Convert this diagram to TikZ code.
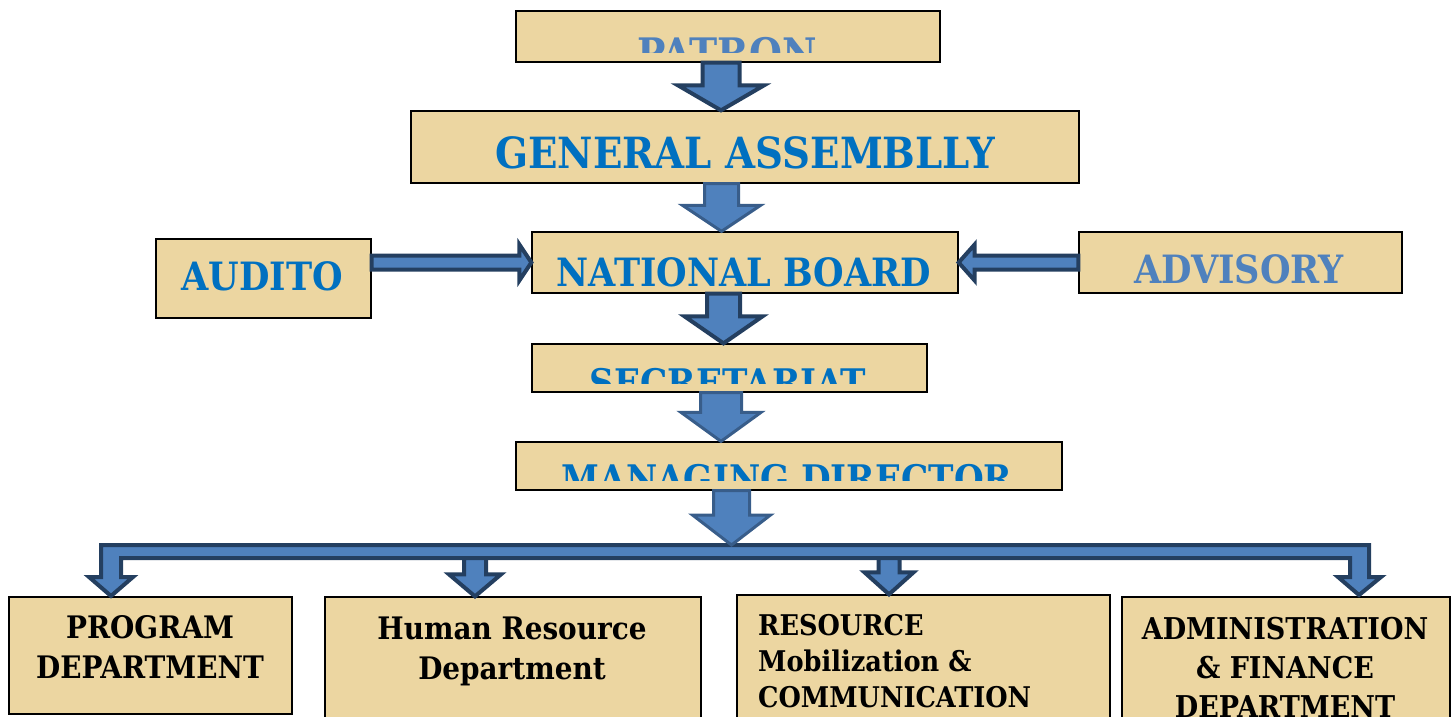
\documentclass[tikz,border=0pt]{standalone}
\usepackage{fontspec}
\newfontfamily\boxfont{DejaVu Serif Condensed Bold}
\usetikzlibrary{calc}

\definecolor{papyrus}{HTML}{ECD6A1}
\definecolor{titleblue}{HTML}{0070C0}
\definecolor{paleblue}{HTML}{4F81BD}
\definecolor{arrowfill}{HTML}{4F81BD}
\definecolor{arrowdark}{HTML}{243F60}
\definecolor{arrowmid}{HTML}{385D8A}

% block arrow pointing down: style, from, to, shaft half, head half, head length
\newcommand{\downblock}[6]{%
  \path[#1] let \p1=(#2), \p2=(#3) in
    (\x1-#4,\y1) -- (\x1+#4,\y1) -- (\x1+#4,\y2+#6) -- (\x1+#5,\y2+#6) -- (\x1,\y2)
    -- (\x1-#5,\y2+#6) -- (\x1-#4,\y2+#6) -- cycle;}
% block arrow sideways: style, from, to, shaft half, head half, signed head length
\newcommand{\sideblock}[6]{%
  \path[#1] let \p1=(#2), \p2=(#3), \n1={#6} in
    (\x1,\y1+#4) -- ({\x2-\n1},\y1+#4) -- ({\x2-\n1},\y1+#5) -- (\x2,\y1)
    -- ({\x2-\n1},\y1-#5) -- ({\x2-\n1},\y1-#4) -- (\x1,\y1-#4) -- cycle;}

\begin{document}
\begin{tikzpicture}[x=1pt, y=-1pt,
    box/.style={draw=black, line width=1.3pt, fill=papyrus, inner sep=0pt},
    bluetext/.style={text=titleblue, inner sep=0pt, anchor=base},
    deptext/.style={text=black, inner sep=0pt, anchor=base, align=center,
        font={\boxfont\fontsize{31}{40}\selectfont}},
    darkarrow/.style={fill=arrowfill, draw=arrowdark, line width=4pt},
    midarrow/.style={fill=arrowfill, draw=arrowmid, line width=3pt}]
    \useasboundingbox (0,0) rectangle (1455,716);
    \clip (0,0) rectangle (1455,716);

    % boxes
    \node[box, minimum width=424pt, minimum height=51pt] (patron) at (728,36.5) {};
    \node[box, minimum width=668pt, minimum height=72pt] (assembly) at (745,147) {};
    \node[box, minimum width=426pt, minimum height=61pt] (board) at (745,262.5) {};
    \node[box, minimum width=215pt, minimum height=79pt] (audit) at (263.5,278.5) {};
    \node[box, minimum width=323pt, minimum height=61pt] (advisory) at (1240.5,262.5) {};
    \node[box, minimum width=395pt, minimum height=48pt] (secretariat) at (729.5,368) {};
    \node[box, minimum width=546pt, minimum height=48pt] (director) at (789,466) {};
    \node[box, minimum width=283pt, minimum height=117pt] (program) at (150.5,655.5) {};
    \node[box, minimum width=376pt, minimum height=150pt] (human) at (513,672) {};
    \node[box, minimum width=373pt, minimum height=150pt] (mobilize) at (923.5,670) {};
    \node[box, minimum width=328pt, minimum height=150pt] (finance) at (1286,672) {};

    % titles, some cut off by their boxes
    \begin{scope}
        \clip (patron.north west) rectangle (patron.east |- 0,52);
        \node[bluetext, text=paleblue, font={\boxfont\fontsize{42}{48}\selectfont}] (patrontext) at (727,68) {PATRON};
    \end{scope}
    \node[bluetext, font={\boxfont\fontsize{43}{50}\selectfont}] (assemblytext) at (745,168) {GENERAL ASSEMBLLY};
    \node[bluetext, font={\boxfont\fontsize{39}{48}\selectfont}] (boardtext) at (744,286) {NATIONAL BOARD};
    \node[bluetext, font={\boxfont\fontsize{39}{48}\selectfont}] (audittext) at (262,290) {AUDITO};
    \node[bluetext, text=paleblue, font={\boxfont\fontsize{39}{48}\selectfont}] (advisorytext) at (1239,283) {ADVISORY};
    \begin{scope}
        \clip (secretariat.north west) rectangle (secretariat.east |- 0,383);
        \node[bluetext, font={\boxfont\fontsize{38}{48}\selectfont}] (secretariattext) at (728,396) {SECRETARIAT};
    \end{scope}
    \begin{scope}
        \clip (director.north west) rectangle (director.east |- 0,480);
        \node[bluetext, font={\boxfont\fontsize{38}{48}\selectfont}] (directortext) at (787,492) {MANAGING DIRECTOR};
    \end{scope}

    % departments (anchored at the last line)
    \node[deptext] (programtext) at (150,678) {PROGRAM\\DEPARTMENT};
    \node[deptext] (humantext) at (512,679) {Human Resource\\Department};
    \node[deptext, align=left, anchor=base west, font={\boxfont\fontsize{28.5}{36}\selectfont}] (mobilizetext) at (758,707) {RESOURCE\\Mobilization \&\\COMMUNICATION};
    \node[deptext, font={\boxfont\fontsize{30}{39}\selectfont}] (financetext) at (1285,717) {ADMINISTRATION\\\& FINANCE\\DEPARTMENT};

    % spine of the chart
    \coordinate (a1) at (721,0);
    \coordinate (a2) at (721.5,0);
    \coordinate (a3) at (723.5,0);
    \coordinate (a4) at (721,0);
    \coordinate (hub) at (731.5,545);
    \coordinate (b2) at (475,558);
    \coordinate (b3) at (889,558);

    \downblock{darkarrow}{patron.south -| a1}{assembly.north -| a1}{18.5pt}{43pt}{25pt}
    \downblock{midarrow}{assembly.south -| a2}{board.north -| a2}{17pt}{39pt}{26pt}
    \downblock{darkarrow}{board.south -| a3}{secretariat.north -| a3}{16.5pt}{39pt}{27pt}
    \downblock{midarrow}{secretariat.south -| a4}{director.north -| a4}{20.5pt}{40pt}{29pt}

    \sideblock{darkarrow}{audit.east |- board.west}{board.west}{7pt}{18pt}{12pt}
    \sideblock{darkarrow}{advisory.west}{board.east}{7pt}{18pt}{-16pt}

    % bar across the departments
    \path[darkarrow] (101,545) -- (1369,545) -- (1369,577) -- (1381,577) -- (1359,595)
        -- (1338,577) -- (1350,577) -- (1350,558) -- (121,558) -- (121,577) -- (133,577)
        -- (111,596) -- (89,577) -- (101,577) -- cycle;
    \downblock{midarrow}{director.south -| hub}{hub}{18pt}{39pt}{30pt}
    \downblock{darkarrow}{b2}{human.north -| b2}{11pt}{26pt}{22pt}
    \downblock{darkarrow}{b3}{mobilize.north -| b3}{10.5pt}{24.5pt}{22pt}
\end{tikzpicture}
\end{document}
